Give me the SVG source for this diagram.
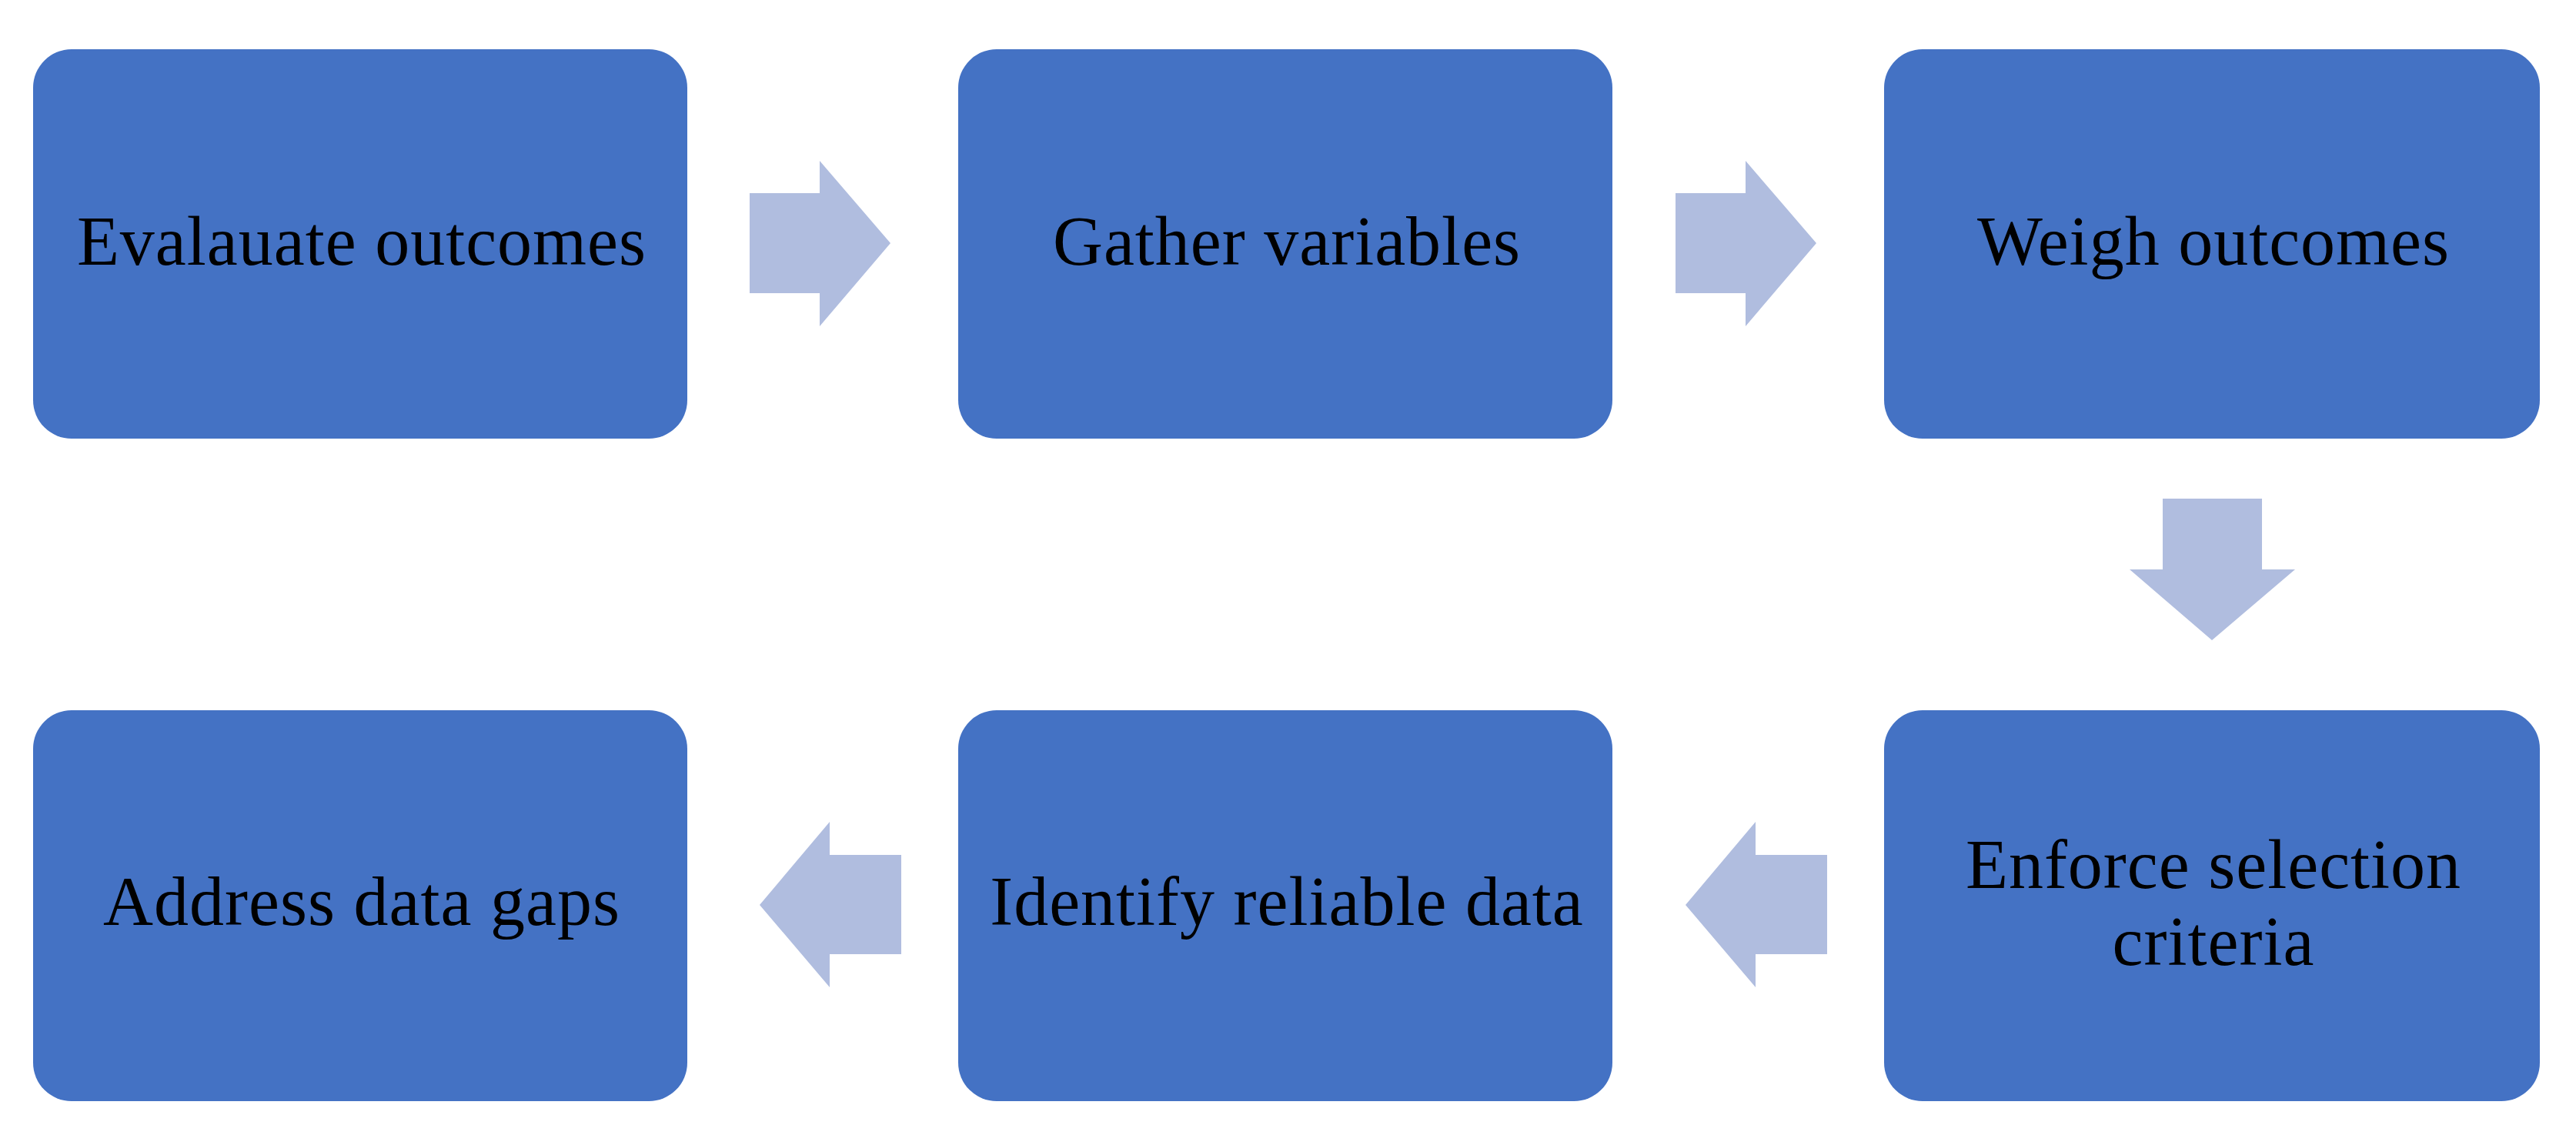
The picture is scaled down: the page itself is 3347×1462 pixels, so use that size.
<svg xmlns="http://www.w3.org/2000/svg" width="3347" height="1462" viewBox="0 0 3347 1462">
<style>
.box{fill:#4472C4}
.arr{fill:#B0BDDF}
.lbl{font-family:"Liberation Serif","DejaVu Serif",serif;font-size:90px;letter-spacing:1px;fill:#000;text-anchor:middle}
</style>
<rect width="3347" height="1462" fill="#fff"/>
<g id="connectors">
<polygon class="arr" points="974,251 1065,251 1065,209 1157,316 1065,424 1065,381 974,381"/>
<polygon class="arr" points="2177,251 2268,251 2268,209 2360,316 2268,424 2268,381 2177,381"/>
<polygon class="arr" points="2810,648 2939,648 2939,740 2982,740 2874,832 2767,740 2810,740"/>
<polygon class="arr" points="2374,1111 2281,1111 2281,1068 2190,1176 2281,1283 2281,1240 2374,1240"/>
<polygon class="arr" points="1171,1111 1078,1111 1078,1068 987,1176 1078,1283 1078,1240 1171,1240"/>
</g>
<g id="n1"><rect class="box" x="43" y="64" width="850" height="506" rx="50"/><text class="lbl" x="470" y="344">Evalauate outcomes</text></g>
<g id="n2"><rect class="box" x="1245" y="64" width="850" height="506" rx="50"/><text class="lbl" x="1672" y="344">Gather variables</text></g>
<g id="n3"><rect class="box" x="2448" y="64" width="852" height="506" rx="50"/><text class="lbl" x="2876" y="344">Weigh outcomes</text></g>
<g id="n4"><rect class="box" x="2448" y="923" width="852" height="508" rx="50"/><text class="lbl" x="2876" y="1154">Enforce selection</text><text class="lbl" x="2876" y="1254">criteria</text></g>
<g id="n5"><rect class="box" x="1245" y="923" width="850" height="508" rx="50"/><text class="lbl" x="1672" y="1202">Identify reliable data</text></g>
<g id="n6"><rect class="box" x="43" y="923" width="850" height="508" rx="50"/><text class="lbl" x="470" y="1202">Address data gaps</text></g>
</svg>
